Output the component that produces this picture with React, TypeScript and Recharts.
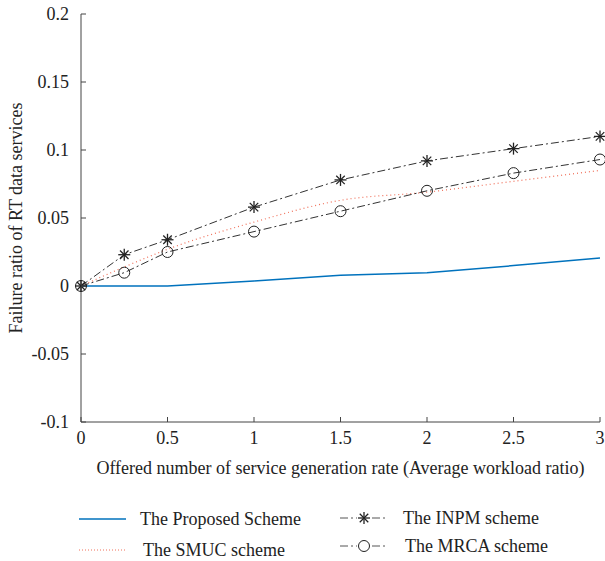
import React from 'react';
import { LineChart, Line, XAxis, YAxis, Legend } from 'recharts';

const workload = [0, 0.25, 0.5, 1, 1.5, 2, 2.5, 3];
const proposed = [0, 0, 0, 0.0037, 0.0079, 0.0098, 0.015, 0.0206];
const smuc = [0, 0.014, 0.027, 0.047, 0.063, 0.069, 0.077, 0.085];
const inpm = [0, 0.023, 0.034, 0.058, 0.078, 0.092, 0.101, 0.11];
const mrca = [0, 0.0098, 0.025, 0.04, 0.055, 0.07, 0.083, 0.093];

const xTicks = [0, 0.5, 1, 1.5, 2, 2.5, 3];
const yTicks = [-0.1, -0.05, 0, 0.05, 0.1, 0.15, 0.2];

const chartData = workload.map((w, i) => ({
  w,
  proposed: proposed[i],
  smuc: smuc[i],
  inpm: inpm[i],
  mrca: mrca[i],
}));

const FONT = '"Liberation Serif", "DejaVu Serif", serif';
const FS = 18;
const TEXT = '#222';
const AXIS = '#444';
const BLUE = '#0072BD';
const RED = '#F0705A';
const DARK = '#333';
const DASHDOT = '8 3 2 3';
const TICK_LEN = 5;

// left y ticks: label + inward tick
const LeftTick = (props: any) => {
  const { x, y, payload } = props;
  const ax = x + 12;
  return (
    <g>
      <line x1={ax} x2={ax + TICK_LEN} y1={y} y2={y} stroke={AXIS} />
      <text x={x} y={y} dy="0.355em" textAnchor="end" fill={TEXT} fontSize={FS} fontFamily={FONT}>
        {payload.value}
      </text>
    </g>
  );
};

const BottomTick = (props: any) => {
  const { x, y, payload } = props;
  const ay = y - 9;
  return (
    <g>
      <line x1={x} x2={x} y1={ay} y2={ay - TICK_LEN} stroke={AXIS} />
      <text x={x} y={y} dy="0.71em" textAnchor="middle" fill={TEXT} fontSize={FS} fontFamily={FONT}>
        {payload.value}
      </text>
    </g>
  );
};

const TopTick = (props: any) => {
  const { x, y } = props;
  return <line x1={x} x2={x} y1={y} y2={y + TICK_LEN} stroke={AXIS} />;
};

const RightTick = (props: any) => {
  const { x, y } = props;
  return <line x1={x} x2={x - TICK_LEN} y1={y} y2={y} stroke={AXIS} />;
};

const StarDot = (props: any) => {
  const { cx, cy, index } = props;
  const r = 6;
  const d = r * 0.7071;
  return (
    <g key={`star-${index}`} stroke="#222" strokeWidth={1.3}>
      <line x1={cx - r} x2={cx + r} y1={cy} y2={cy} />
      <line x1={cx} x2={cx} y1={cy - r} y2={cy + r} />
      <line x1={cx - d} x2={cx + d} y1={cy - d} y2={cy + d} />
      <line x1={cx - d} x2={cx + d} y1={cy + d} y2={cy - d} />
    </g>
  );
};

const CircleDot = (props: any) => {
  const { cx, cy, index } = props;
  return <circle key={`circ-${index}`} cx={cx} cy={cy} r={5.5} fill="none" stroke="#222" strokeWidth={1} />;
};

const legendItems = [
  { name: 'The Proposed Scheme', left: 79, top: 508, textLeft: 140, kind: 'proposed' },
  { name: 'The SMUC scheme', left: 79, top: 539, textLeft: 143, kind: 'smuc' },
  { name: 'The INPM scheme', left: 340, top: 507, textLeft: 403, kind: 'inpm' },
  { name: 'The MRCA scheme', left: 340, top: 535, textLeft: 405, kind: 'mrca' },
];

const LegendSample = ({ kind }: { kind: string }) => {
  if (kind === 'proposed')
    return <line x1={0} x2={47} y1={11} y2={11} stroke={BLUE} strokeWidth={1.5} />;
  if (kind === 'smuc')
    return <line x1={0} x2={47} y1={11} y2={11} stroke={RED} strokeWidth={1} strokeDasharray="1 2" />;
  return (
    <g>
      <line x1={0} x2={47} y1={11} y2={11} stroke="#555" strokeWidth={1} strokeDasharray="8 3 2 3" />
      <rect x={17} y={4} width={14} height={14} fill="#fff" />
      {kind === 'inpm' ? <StarDot cx={24} cy={11} index={0} /> : <CircleDot cx={24} cy={11} index={0} />}
    </g>
  );
};

const CustomLegend = () => (
  <div style={{ position: 'relative', width: 605, height: 0 }}>
    {legendItems.map((it) => (
      <div key={it.name}>
        <svg
          width={48}
          height={22}
          style={{ position: 'absolute', left: it.left, top: it.top }}
        >
          <LegendSample kind={it.kind} />
        </svg>
        <span
          style={{
            position: 'absolute',
            left: it.textLeft,
            top: it.top,
            lineHeight: '22px',
            fontSize: FS,
            fontFamily: FONT,
            color: TEXT,
            whiteSpace: 'nowrap',
          }}
        >
          {it.name}
        </span>
      </div>
    ))}
  </div>
);

export default function App() {
  return (
    <div style={{ position: 'absolute', left: 0, top: 0, width: 605, height: 561, background: '#fff' }}>
      <LineChart
        width={605}
        height={561}
        data={chartData}
        margin={{ top: 14, right: 5, left: 0, bottom: 79 }}
      >
        <XAxis
          dataKey="w"
          type="number"
          domain={[0, 3]}
          ticks={xTicks}
          tickSize={0}
          tickMargin={9}
          height={60}
          tickLine={false}
          axisLine={{ stroke: AXIS }}
          tick={<BottomTick />}
          interval={0}
          label={{
            value: 'Offered number of service generation rate (Average workload ratio)',
            position: 'center',
            dy: 16,
            fill: TEXT,
            fontSize: FS,
            fontFamily: FONT,
          }}
        />
        <XAxis
          xAxisId="top"
          orientation="top"
          dataKey="w"
          type="number"
          domain={[0, 3]}
          ticks={xTicks}
          tickSize={0}
          tickMargin={0}
          height={0}
          tickLine={false}
          axisLine={{ stroke: AXIS }}
          tick={<TopTick />}
          interval={0}
        />
        <YAxis
          type="number"
          domain={[-0.1, 0.2]}
          ticks={yTicks}
          tickSize={0}
          tickMargin={12}
          width={81}
          tickLine={false}
          axisLine={{ stroke: AXIS }}
          tick={<LeftTick />}
          interval={0}
          label={{
            value: 'Failure ratio of RT data services',
            angle: -90,
            position: 'center',
            dx: -25,
            fill: TEXT,
            fontSize: FS,
            fontFamily: FONT,
          }}
        />
        <YAxis
          yAxisId="right"
          orientation="right"
          type="number"
          domain={[-0.1, 0.2]}
          ticks={yTicks}
          tickSize={0}
          tickMargin={0}
          width={0}
          tickLine={false}
          axisLine={{ stroke: AXIS }}
          tick={<RightTick />}
          interval={0}
        />
        <Line
          dataKey="proposed"
          name="The Proposed Scheme"
          type="linear"
          stroke={BLUE}
          strokeWidth={1.5}
          dot={false}
          isAnimationActive={false}
        />
        <Line
          dataKey="smuc"
          name="The SMUC scheme"
          type="monotone"
          stroke={RED}
          strokeWidth={1.2}
          strokeDasharray="1 3"
          dot={false}
          isAnimationActive={false}
        />
        <Line
          dataKey="inpm"
          name="The INPM scheme"
          type="linear"
          stroke={DARK}
          strokeWidth={1}
          strokeDasharray={DASHDOT}
          dot={<StarDot />}
          isAnimationActive={false}
        />
        <Line
          dataKey="mrca"
          name="The MRCA scheme"
          type="linear"
          stroke={DARK}
          strokeWidth={1}
          strokeDasharray={DASHDOT}
          dot={<CircleDot />}
          isAnimationActive={false}
        />
        <Legend
          content={<CustomLegend />}
          wrapperStyle={{ position: 'absolute', left: 0, top: 0, width: 605, height: 0 }}
        />
      </LineChart>
    </div>
  );
}
